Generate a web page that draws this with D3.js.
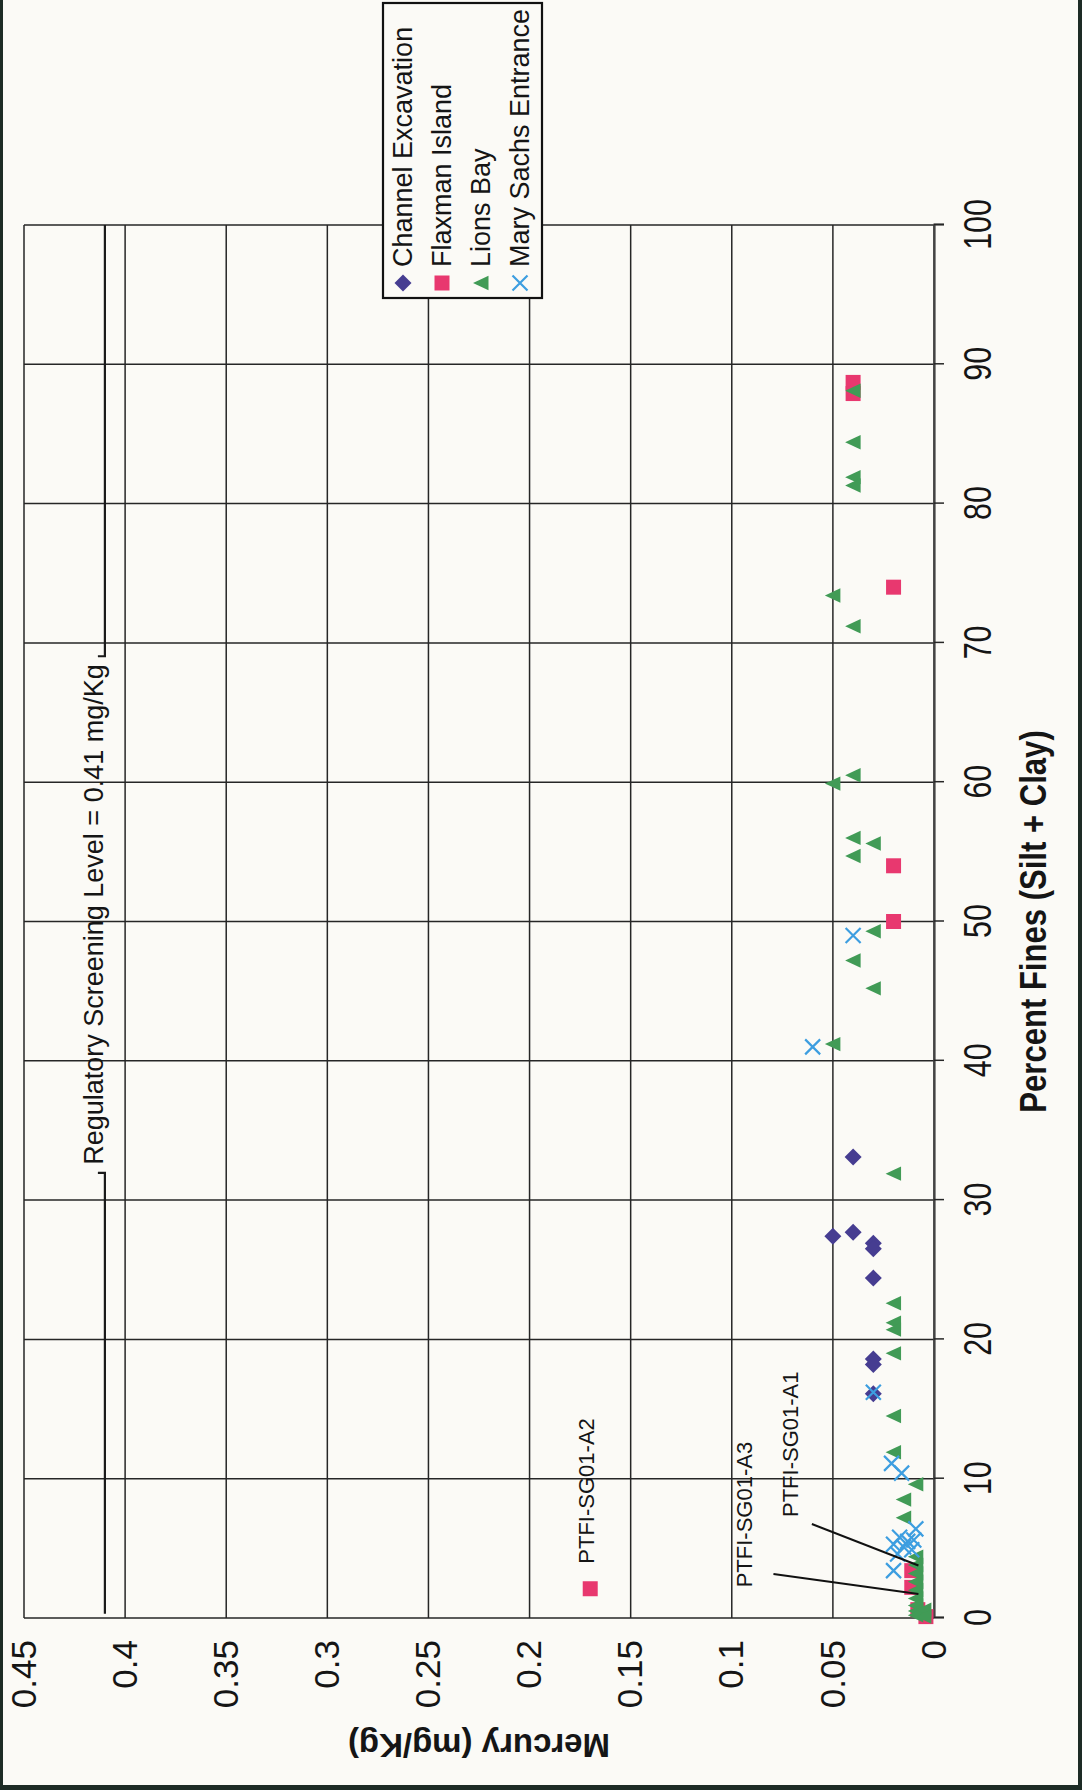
<!DOCTYPE html>
<html><head><meta charset="utf-8">
<script src="https://cdn.jsdelivr.net/npm/d3@7"></script>
<style>
body{margin:0;background:#fbfaf6}
svg{display:block}
text{font-family:"Liberation Sans",Arial,Helvetica,sans-serif;fill:#151515}
</style>
</head><body>
<svg id="c" width="1082" height="1790"></svg>
<script>
// ---------------- data ----------------
const seriesNames = ["Channel Excavation", "Flaxman Island", "Lions Bay", "Mary Sachs Entrance"];

const channelPct = [33.1, 27.4, 27.7, 26.9, 26.5, 24.4, 18.6, 18.2, 16.1];
const channelHg  = [0.04, 0.05, 0.04, 0.03, 0.03, 0.03, 0.03, 0.03, 0.03];

const flaxmanPct = [88.7, 87.9, 74.0, 54.0, 50.0, 2.1, 3.4, 2.2, 0.6, 0.1];
const flaxmanHg  = [0.04, 0.04, 0.02, 0.02, 0.02, 0.17, 0.011, 0.011, 0.008, 0.004];

const lionsPct = [88.1, 84.4, 81.9, 81.3, 73.4, 71.2, 60.5, 59.9, 56.0, 55.6, 54.7, 49.3, 47.2, 45.2, 41.2,
                  31.9, 22.6, 21.2, 20.7, 19.0, 14.5, 11.9, 9.6, 8.5, 7.2,
                  4.4, 3.8, 3.2, 2.6, 2.0, 1.4, 0.9, 0.5, 0.2, 0.6, 0.1];
const lionsHg  = [0.04, 0.04, 0.04, 0.04, 0.05, 0.04, 0.04, 0.05, 0.04, 0.03, 0.04, 0.03, 0.04, 0.03, 0.05,
                  0.02, 0.02, 0.02, 0.02, 0.02, 0.02, 0.02, 0.009, 0.015, 0.015,
                  0.009, 0.009, 0.009, 0.009, 0.009, 0.009, 0.009, 0.009, 0.009, 0.005, 0.005];

const marySachsPct = [49.0, 41.0, 16.2, 11.1, 10.4, 6.4, 5.8, 5.5, 5.3, 5.1, 4.9, 4.6, 5.6, 3.4];
const marySachsHg  = [0.04, 0.06, 0.03, 0.021, 0.016, 0.009, 0.017, 0.013, 0.020, 0.015, 0.011, 0.018, 0.010, 0.020];

const pctTicks = [0, 10, 20, 30, 40, 50, 60, 70, 80, 90, 100];
const hgTicks  = [0, 0.05, 0.1, 0.15, 0.2, 0.25, 0.3, 0.35, 0.4, 0.45];
const hgTickLabels = ["0", "0.05", "0.1", "0.15", "0.2", "0.25", "0.3", "0.35", "0.4", "0.45"];

const screeningLevel = 0.41;
const screeningLabel = "Regulatory Screening Level = 0.41 mg/Kg";
const screeningLabelPct = 50.5;

const annLabels   = ["PTFI-SG01-A2", "PTFI-SG01-A1", "PTFI-SG01-A3"];
const annLabelPct = [3.9, 7.25, 2.2];
const annLabelHg  = [0.168, 0.0672, 0.0899];
const leaderFromPct = [6.75, 3.16];
const leaderFromHg  = [0.0604, 0.0794];
const leaderToPct   = [3.77, 1.72];
const leaderToHg    = [0.0077, 0.0077];

// ---------------- drawing ----------------
const W = 1082, H = 1790;
const svg = d3.select("#c");
svg.append("rect").attr("width", W).attr("height", H).attr("fill", "#fbfaf6");

// chart drawn in its natural orientation, then rotated -90deg onto the page
const g = svg.append("g").attr("transform", `translate(0,${H}) rotate(-90)`);

const x = d3.scaleLinear().domain([0, 100]).range([172, 1565]);
const y = d3.scaleLinear().domain([0, 0.45]).range([934, 24]);

const gridColor = "#262626";
g.append("g").selectAll("line").data(pctTicks).join("line")
  .attr("x1", d => x(d)).attr("x2", d => x(d))
  .attr("y1", y(0.45)).attr("y2", y(0))
  .attr("stroke", gridColor).attr("stroke-width", 1.5);
g.append("g").selectAll("line").data(hgTicks).join("line")
  .attr("x1", x(0)).attr("x2", x(100))
  .attr("y1", d => y(d)).attr("y2", d => y(d))
  .attr("stroke", gridColor).attr("stroke-width", 1.5);

// percent axis (bottom in chart frame)
const xAxis = g.append("g").attr("transform", `translate(0,${y(0)})`)
  .call(d3.axisBottom(x).tickValues(pctTicks).tickSize(10).tickPadding(20).tickFormat(d3.format("d")));
xAxis.select(".domain").attr("stroke", "#444").attr("stroke-width", 2.2);
xAxis.selectAll(".tick line").attr("stroke", gridColor).attr("stroke-width", 1.5);
xAxis.selectAll(".tick text").attr("font-size", 38).attr("fill", "#151515")
  .attr("transform", "scale(0.8,1)").style("font-family", '"Liberation Sans",Arial,sans-serif');

// mercury axis (left in chart frame)
const yAxis = g.append("g").attr("transform", `translate(${x(0)},0)`)
  .call(d3.axisLeft(y).tickValues(hgTicks).tickSize(0).tickPadding(22).tickFormat((d, i) => hgTickLabels[i]));
yAxis.select(".domain").remove();
yAxis.selectAll(".tick text").attr("font-size", 35).attr("fill", "#151515")
  .style("font-family", '"Liberation Sans",Arial,sans-serif');

// axis titles
g.append("text")
  .attr("transform", `translate(44,${(y(0) + y(0.45)) / 2}) rotate(-90)`)
  .attr("text-anchor", "middle").attr("dy", "0.35em")
  .style("font-weight", "bold").style("font-size", "33px")
  .text("Mercury (mg/Kg)");
g.append("text")
  .attr("transform", `translate(${(x(0) + x(100)) / 2},1033) scale(0.84,1)`)
  .attr("text-anchor", "middle").attr("dy", "0.35em")
  .style("font-weight", "bold").style("font-size", "37px")
  .text("Percent Fines (Silt + Clay)");

// regulatory screening level line with label
const regY = y(screeningLevel);
const regCx = x(screeningLabelPct);
const regText = g.append("text").attr("x", regCx).attr("y", regY - 2)
  .attr("text-anchor", "middle").style("font-size", "27px").text(screeningLabel);
const halfGap = regText.node().getComputedTextLength() / 2 + 8;
const regPath = d3.path();
regPath.moveTo(x(0.3), regY); regPath.lineTo(regCx - halfGap, regY); regPath.lineTo(regCx - halfGap, regY - 7);
regPath.moveTo(regCx + halfGap, regY - 7); regPath.lineTo(regCx + halfGap, regY); regPath.lineTo(x(100), regY);
g.append("path").attr("d", regPath.toString()).attr("fill", "none").attr("stroke", "#1a1a1a").attr("stroke-width", 2.2);

// markers
const colors = ["#463d91", "#e8386f", "#419b56", "#3d9ee0"];
const shapes = [
  "M0,-8.5L8.5,0L0,8.5L-8.5,0Z",
  "M-7.5,-7.5H7.5V7.5H-7.5Z",
  "M0,-8L7.2,7.5L-7.2,7.5Z",
  "M-7.5,-7.5L7.5,7.5M-7.5,7.5L7.5,-7.5"
];
function drawMarker(sel, i) {
  if (i === 3) sel.attr("d", shapes[i]).attr("fill", "none").attr("stroke", colors[i]).attr("stroke-width", 2.2);
  else sel.attr("d", shapes[i]).attr("fill", colors[i]);
}
const seriesPct = [channelPct, flaxmanPct, lionsPct, marySachsPct];
const seriesHg = [channelHg, flaxmanHg, lionsHg, marySachsHg];
seriesPct.forEach((pcts, si) => {
  const pts = pcts.map((p, j) => [p, seriesHg[si][j]]);
  g.append("g").selectAll("path").data(pts).join("path")
    .attr("transform", d => `translate(${x(d[0])},${y(d[1])})`)
    .call(s => drawMarker(s, si));
});

// annotations
annLabels.forEach((t, i) => {
  g.append("text").attr("x", x(annLabelPct[i])).attr("y", y(annLabelHg[i]))
    .style("font-size", "22px").text(t);
});
leaderFromPct.forEach((p, i) => {
  g.append("line")
    .attr("x1", x(p)).attr("y1", y(leaderFromHg[i]))
    .attr("x2", x(leaderToPct[i])).attr("y2", y(leaderToHg[i]))
    .attr("stroke", "#111").attr("stroke-width", 2);
});

// legend
const lg = g.append("g");
lg.append("rect").attr("x", 1492).attr("y", 383).attr("width", 295).attr("height", 159)
  .attr("fill", "#fbfaf6").attr("stroke", "#111").attr("stroke-width", 2.2);
seriesNames.forEach((name, i) => {
  const cy = 403 + i * 39;
  lg.append("path").attr("transform", `translate(1507,${cy})`).call(s => drawMarker(s, i));
  lg.append("text").attr("x", 1523).attr("y", cy).attr("dy", "0.35em").style("font-size", "27px").text(name);
});

// page edges (scan border)
svg.append("rect").attr("x", 0).attr("y", 0).attr("width", 3).attr("height", H).attr("fill", "#1d2b25");
svg.append("rect").attr("x", W - 4).attr("y", 0).attr("width", 4).attr("height", H).attr("fill", "#1d2b25");
svg.append("rect").attr("x", 0).attr("y", H - 5).attr("width", W).attr("height", 5).attr("fill", "#1d2b25");
</script>
</body></html>
